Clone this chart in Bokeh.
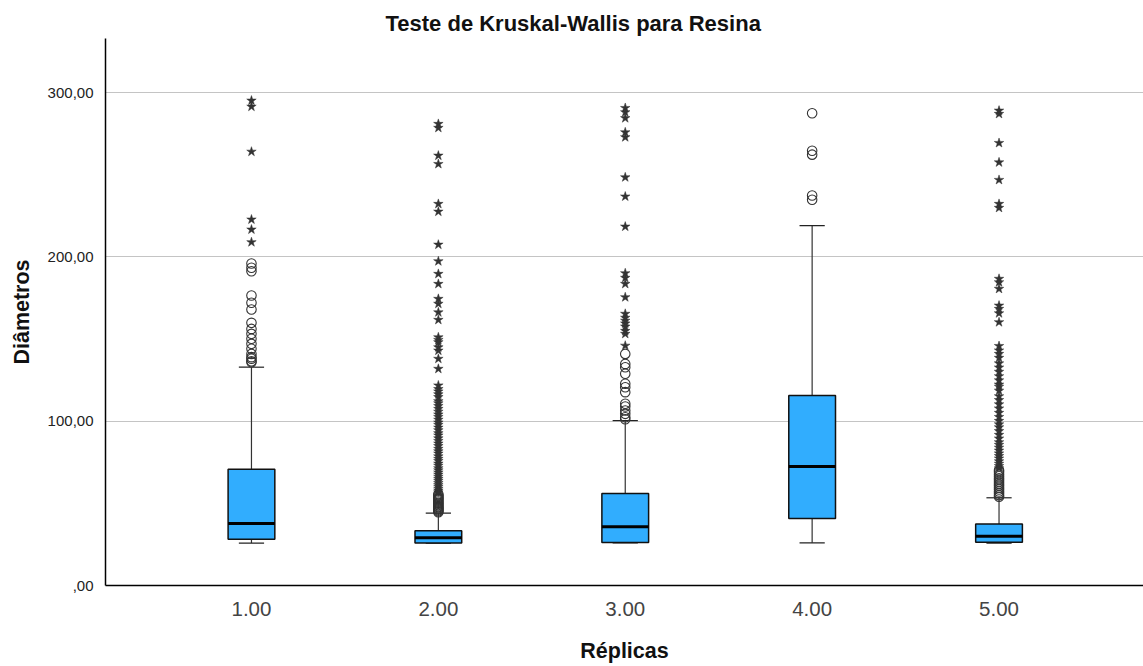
from bokeh.plotting import figure
from bokeh.models import ColumnDataSource, FixedTicker, Range1d
from bokeh.embed import file_html
from bokeh.resources import INLINE

# ---------------- data ----------------
replicas = [1, 2, 3, 4, 5]
tick_labels = ["1.00", "2.00", "3.00", "4.00", "5.00"]
q1 = [28.2, 25.8, 26.2, 40.8, 26.4]
median = [37.7, 29.0, 35.8, 72.4, 30.0]
q3 = [70.8, 33.3, 56.0, 115.6, 37.5]
lower_whisker = [25.8, 25.8, 26.0, 26.0, 25.8]
upper_whisker = [132.9, 44.0, 100.4, 219.1, 53.4]

# mild outliers (circles)
mild_1 = [196.0, 193.4, 191.3, 176.5, 172.1, 168.0, 159.9, 156.2, 153.2, 150.2,
          147.1, 144.1, 141.0, 139.0, 138.0, 136.5, 135.9]
mild_2 = [55.5, 54.8, 54.0, 53.2, 52.6, 51.9, 51.1, 50.4, 49.8, 49.0, 48.3,
          47.7, 47.0, 46.4, 45.8, 45.2, 44.6]
mild_3 = [141.0, 134.9, 132.9, 128.9, 122.8, 120.7, 117.7, 110.6, 109.0, 106.5,
          104.5, 102.4, 101.2]
mild_4 = [287.5, 264.7, 262.3, 237.4, 234.8]
mild_5 = [70.2, 69.1, 67.8, 66.5, 65.3, 64.2, 63.0, 61.8, 60.7, 59.5, 58.4,
          57.2, 56.1, 55.0, 54.0]

# extreme outliers (stars)
extreme_1 = [295.2, 291.5, 264.1, 222.8, 216.7, 209.0]
extreme_2 = [281.0, 278.6, 261.7, 256.6, 232.3, 227.6, 207.5, 197.4, 189.7,
             183.6, 174.5, 171.5, 166.3, 161.7, 151.1, 149.5, 148.1, 145.0,
             143.0, 138.0, 131.9, 121.8, 119.6, 118.1, 116.4, 114.7, 112.2,
             110.9, 109.3, 107.5, 105.8, 104.1, 102.6, 100.9, 99.2, 97.8, 96.1,
             94.5, 92.7, 91.3, 89.6, 88.0, 86.4, 84.9, 83.2, 81.7, 80.3, 78.6,
             77.1, 75.8, 74.2, 72.9, 71.4, 70.1, 68.8, 67.5, 66.2, 64.9, 63.7,
             62.4, 61.2, 60.1, 58.9, 57.8, 56.7]
extreme_3 = [290.7, 288.1, 284.5, 275.9, 272.9, 248.5, 236.8, 218.5, 190.1,
             187.3, 183.6, 175.5, 165.4, 163.0, 161.2, 159.5, 157.6, 155.0,
             153.2, 146.0]
extreme_4 = []
extreme_5 = [289.1, 287.1, 269.4, 257.6, 246.9, 232.3, 229.9, 186.7, 184.6,
             180.6, 170.4, 168.4, 165.7, 160.3, 145.8, 143.1, 141.0, 138.6,
             135.2, 132.7, 130.1, 127.4, 124.9, 122.3, 121.0, 118.6, 115.2,
             112.9, 110.3, 107.8, 105.1, 102.6, 100.2, 98.1, 96.3, 94.0, 91.7,
             89.5, 87.2, 85.6, 83.9, 82.1, 80.4, 78.8, 77.3, 75.6, 74.1, 72.7,
             71.3]

mild_all = [mild_1, mild_2, mild_3, mild_4, mild_5]
extreme_all = [extreme_1, extreme_2, extreme_3, extreme_4, extreme_5]

title_text = "Teste de Kruskal-Wallis para Resina"
x_label = "Réplicas"
y_label = "Diâmetros"

# ---------------- figure ----------------
FONT = "Liberation Sans"
BOX_W = 0.25
CAP_W = 0.135

p = figure(width=1143, height=666, output_backend="svg", toolbar_location=None,
           x_range=Range1d(0.219, 5.773), y_range=Range1d(0, 333),
           title=title_text)
p.min_border_left = 105
p.min_border_right = 0
p.min_border_top = 38
p.min_border_bottom = 81
p.outline_line_color = None
p.background_fill_color = "white"
p.border_fill_color = "white"

# title (centred on the whole canvas, not the frame)
p.title.align = "left"
p.title.offset = 280
p.title.text_font = FONT
p.title.text_font_style = "bold"
p.title.text_font_size = "22px"
p.title.text_color = "#111111"
p.title.standoff = 6

# grid
p.xgrid.grid_line_color = None
p.ygrid.ticker = FixedTicker(ticks=[100, 200, 300])
p.ygrid.grid_line_color = "#c4c4c4"
p.ygrid.grid_line_width = 1

# axes
p.xaxis.ticker = FixedTicker(ticks=replicas)
p.xaxis.major_label_overrides = {r: t for r, t in zip(replicas, tick_labels)}
p.yaxis.ticker = FixedTicker(ticks=[0, 100, 200, 300])
p.yaxis.major_label_overrides = {0: ",00", 100: "100,00", 200: "200,00", 300: "300,00"}
for ax in (p.xaxis[0], p.yaxis[0]):
    ax.axis_line_color = "black"
    ax.axis_line_width = 1.5
    ax.major_tick_line_color = None
    ax.minor_tick_line_color = None
    ax.axis_label_text_font = FONT
    ax.axis_label_text_font_style = "bold"
    ax.axis_label_text_font_size = "21.5px"
    ax.axis_label_text_color = "#111111"
    ax.major_label_text_font = FONT

p.xaxis.axis_label = x_label
p.yaxis.axis_label = y_label
p.xaxis.major_label_text_font_size = "20.5px"
p.xaxis.major_label_text_color = "#444444"
p.xaxis.major_label_standoff = 10
p.xaxis.axis_label_standoff = 20
p.yaxis.major_label_text_font_size = "15px"
p.yaxis.major_label_text_color = "#222222"
p.yaxis.major_label_standoff = 6
p.yaxis.axis_label_standoff = 11

# whiskers
ws = ColumnDataSource(dict(x=replicas, lo=lower_whisker, hi=upper_whisker,
                           q1=q1, q3=q3,
                           cl=[r - CAP_W / 2 for r in replicas],
                           cr=[r + CAP_W / 2 for r in replicas]))
p.segment(x0="x", y0="q3", x1="x", y1="hi", source=ws, line_color="#333333", line_width=1.2)
p.segment(x0="x", y0="q1", x1="x", y1="lo", source=ws, line_color="#333333", line_width=1.2)
p.segment(x0="cl", y0="hi", x1="cr", y1="hi", source=ws, line_color="#222222", line_width=1.2)
p.segment(x0="cl", y0="lo", x1="cr", y1="lo", source=ws, line_color="#222222", line_width=1.2)

# boxes
bs = ColumnDataSource(dict(x=replicas, q1=q1, q3=q3, med=median,
                           bl=[r - BOX_W / 2 for r in replicas],
                           br=[r + BOX_W / 2 for r in replicas]))
p.vbar(x="x", width=BOX_W, bottom="q1", top="q3", source=bs,
       fill_color="#31adfe", line_color="#111111", line_width=1.5)
p.segment(x0="bl", y0="med", x1="br", y1="med", source=bs,
          line_color="black", line_width=3)

# outliers
mx, my = [], []
for r, vals in zip(replicas, mild_all):
    mx += [r] * len(vals)
    my += vals
ex, ey = [], []
for r, vals in zip(replicas, extreme_all):
    ex += [r] * len(vals)
    ey += vals

p.scatter(x=mx, y=my, marker="circle", size=9.5, fill_color=None,
          line_color="#333333", line_width=1.1)
p.scatter(x=ex, y=ey, marker="star", size=10, fill_color="#333333",
          line_color="#333333", line_width=0.5)

open("out.html", "w").write(file_html(p, INLINE))
